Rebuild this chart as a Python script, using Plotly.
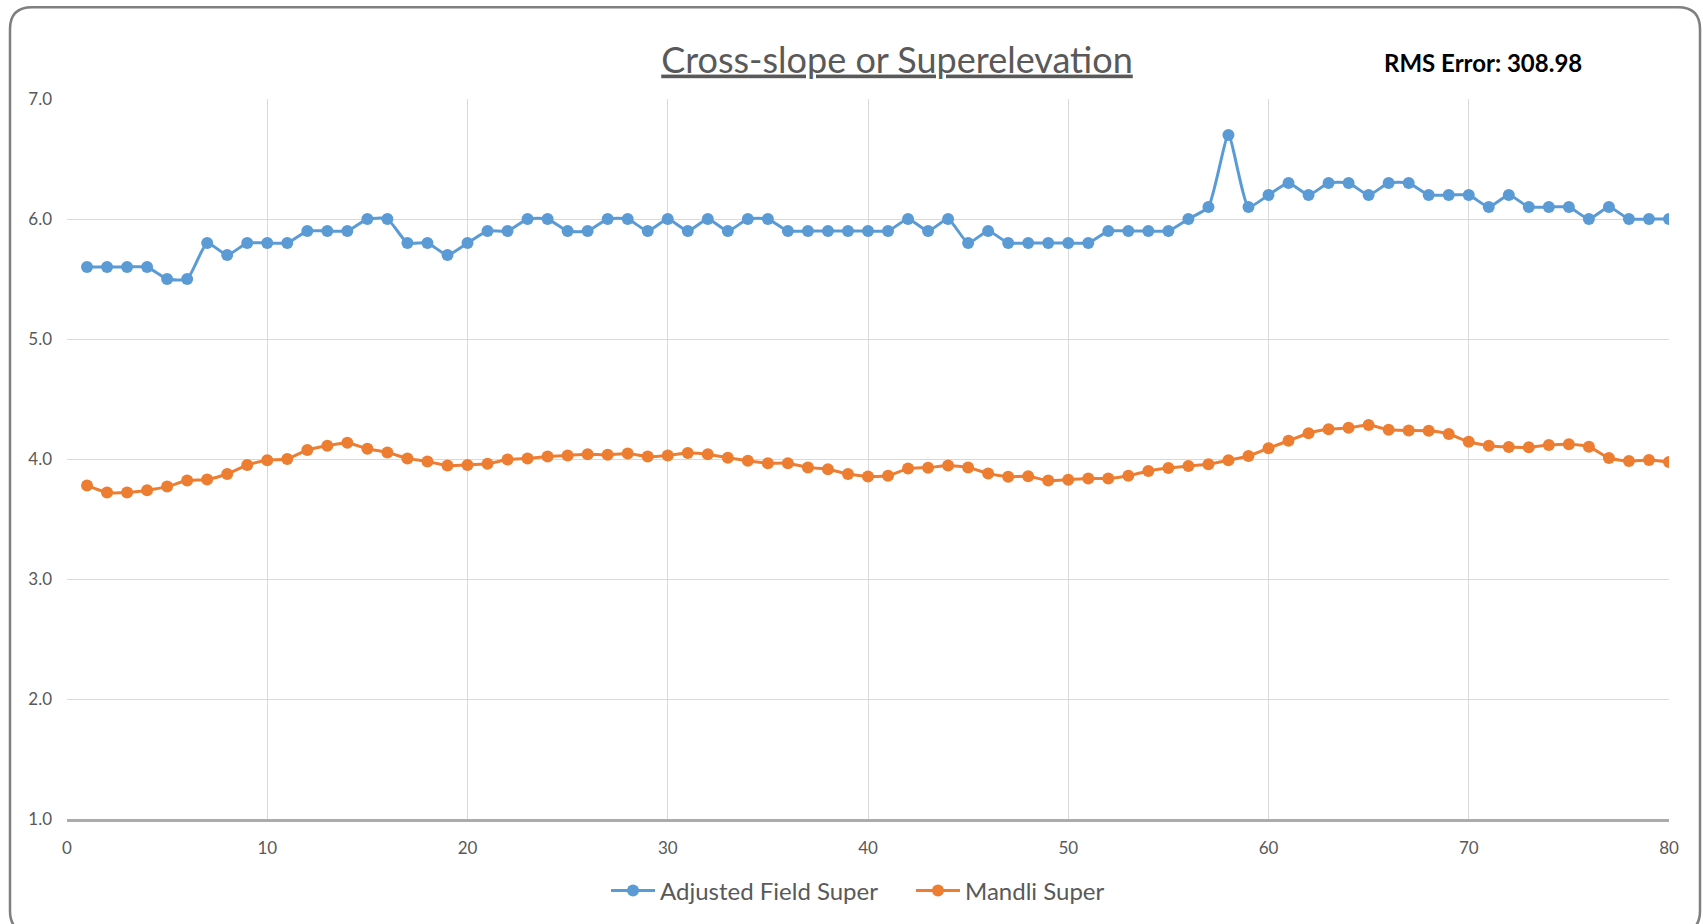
import plotly.graph_objects as go

# station index along the curve
stations = list(range(1, 81))

adjusted_field_super = [
    5.6, 5.6, 5.6, 5.6, 5.5, 5.5, 5.8, 5.7, 5.8, 5.8,
    5.8, 5.9, 5.9, 5.9, 6.0, 6.0, 5.8, 5.8, 5.7, 5.8,
    5.9, 5.9, 6.0, 6.0, 5.9, 5.9, 6.0, 6.0, 5.9, 6.0,
    5.9, 6.0, 5.9, 6.0, 6.0, 5.9, 5.9, 5.9, 5.9, 5.9,
    5.9, 6.0, 5.9, 6.0, 5.8, 5.9, 5.8, 5.8, 5.8, 5.8,
    5.8, 5.9, 5.9, 5.9, 5.9, 6.0, 6.1, 6.7, 6.1, 6.2,
    6.3, 6.2, 6.3, 6.3, 6.2, 6.3, 6.3, 6.2, 6.2, 6.2,
    6.1, 6.2, 6.1, 6.1, 6.1, 6.0, 6.1, 6.0, 6.0, 6.0,
]

mandli_super = [
    3.78, 3.72, 3.72, 3.74, 3.77, 3.82, 3.83, 3.875, 3.95, 3.99,
    4.00, 4.075, 4.11, 4.135, 4.085, 4.055, 4.005, 3.98, 3.945, 3.95,
    3.96, 3.995, 4.005, 4.02, 4.03, 4.04, 4.035, 4.045, 4.02, 4.03,
    4.05, 4.04, 4.01, 3.985, 3.965, 3.965, 3.93, 3.915, 3.875, 3.855,
    3.86, 3.92, 3.928, 3.945, 3.93, 3.88, 3.853, 3.856, 3.82, 3.828,
    3.837, 3.838, 3.86, 3.90, 3.925, 3.942, 3.956, 3.99, 4.025, 4.09,
    4.152, 4.215, 4.247, 4.26, 4.283, 4.244, 4.238, 4.235, 4.208, 4.144,
    4.111, 4.10, 4.097, 4.116, 4.122, 4.102, 4.008, 3.983, 3.992, 3.975,
]

TEXT_GREY = "#595959"
FONT = "Lato"

fig = go.Figure()

fig.add_trace(go.Scatter(
    x=stations, y=adjusted_field_super, name="Adjusted Field Super",
    mode="lines+markers",
    line=dict(color="#5B9BD5", width=3, shape="spline", smoothing=0.5),
    marker=dict(color="#5B9BD5", size=12),
))
fig.add_trace(go.Scatter(
    x=stations, y=mandli_super, name="Mandli Super",
    mode="lines+markers",
    line=dict(color="#ED7D31", width=3, shape="spline", smoothing=0.5),
    marker=dict(color="#ED7D31", size=12),
))

# plot area in pixels (used to place the frame around the chart)
L, R, T, B = 67, 1669, 99, 820


def px_to_paper(px, py):
    return (px - L) / (R - L), (B - py) / (B - T)


def rounded_box(x0, y0, x1, y1, r):
    pts = {
        "a": px_to_paper(x0 + r, y0), "b": px_to_paper(x1 - r, y0),
        "c": px_to_paper(x1, y0), "d": px_to_paper(x1, y0 + r),
        "e": px_to_paper(x1, y1 - r), "f": px_to_paper(x1, y1),
        "g": px_to_paper(x1 - r, y1), "h": px_to_paper(x0 + r, y1),
        "i": px_to_paper(x0, y1), "j": px_to_paper(x0, y1 - r),
        "k": px_to_paper(x0, y0 + r), "m": px_to_paper(x0, y0),
    }
    p = {k: f"{v[0]:.5f},{v[1]:.5f}" for k, v in pts.items()}
    return (f"M {p['a']} L {p['b']} Q {p['c']} {p['d']} L {p['e']} "
            f"Q {p['f']} {p['g']} L {p['h']} Q {p['i']} {p['j']} "
            f"L {p['k']} Q {p['m']} {p['a']} Z")


# outer frame; its bottom edge sits just below the window
fig.add_shape(
    type="path", xref="paper", yref="paper",
    path=rounded_box(10, 7, 1700, 934, 22),
    line=dict(color="#7F7F7F", width=2.5),
)

rx, ry = px_to_paper(1483, 62)
fig.add_annotation(
    text="<b>RMS Error: 308.98</b>", xref="paper", yref="paper",
    x=rx, y=ry, xanchor="center", yanchor="middle", showarrow=False,
    font=dict(family=FONT, size=24, color="#000000"),
)

lx, ly = px_to_paper(606, 891)
fig.update_layout(
    width=1703, height=924,
    margin=dict(l=L, r=1703 - R, t=T, b=924 - B),
    paper_bgcolor="white", plot_bgcolor="white",
    font=dict(family=FONT, color=TEXT_GREY),
    title=dict(
        text="<u>Cross-slope or Superelevation</u>",
        x=897 / 1703, xref="container", xanchor="center",
        y=1 - 60 / 924, yref="container", yanchor="middle",
        font=dict(family=FONT, size=36, color=TEXT_GREY),
    ),
    legend=dict(
        orientation="h", x=lx, xanchor="left",
        y=ly, yanchor="middle",
        itemwidth=44, entrywidth=246,
        font=dict(family=FONT, size=24, color=TEXT_GREY),
    ),
    showlegend=True,
)

fig.update_xaxes(
    range=[0, 80], dtick=10, tick0=0,
    showgrid=True, gridcolor="#D9D9D9", gridwidth=1.2, zeroline=False,
    showline=True, linecolor="#ABABAB", linewidth=2.5,
    ticks="", ticklabelstandoff=12,
    tickfont=dict(family=FONT, size=17, color=TEXT_GREY),
)
fig.update_yaxes(
    range=[1, 7], dtick=1, tick0=1, tickformat=".1f",
    showgrid=True, gridcolor="#D9D9D9", gridwidth=1.2, zeroline=False,
    showline=False, ticks="", ticklabelstandoff=14,
    tickfont=dict(family=FONT, size=17, color=TEXT_GREY),
)

# page body has a default 8px margin; drop it so the 1703x924 figure fills the window
fig.write_html(
    "out.html",
    config={"displayModeBar": False},
    post_script="document.body.style.margin = '0';",
)
